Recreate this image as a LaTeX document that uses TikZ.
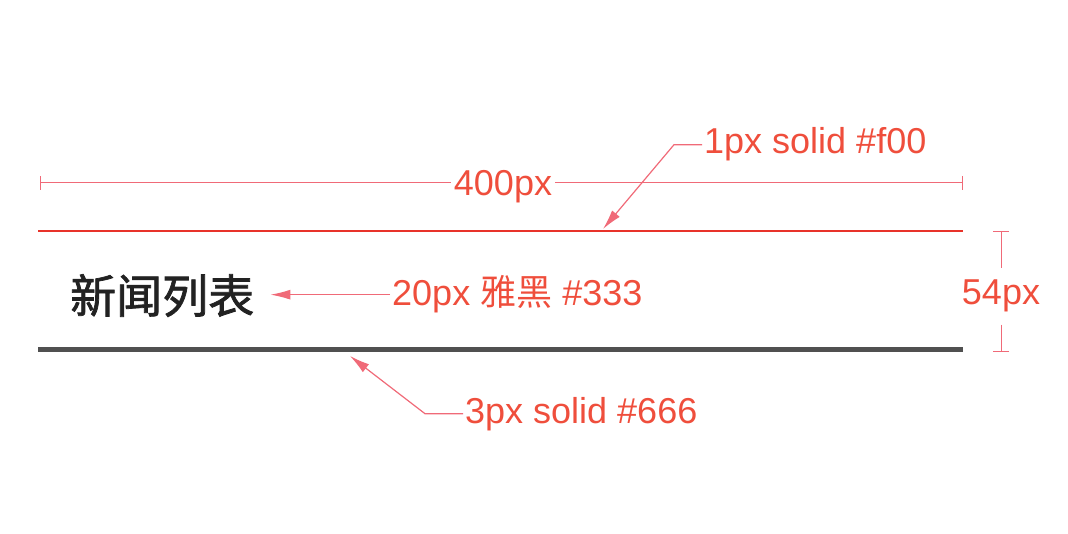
\documentclass[tikz,border=0pt]{standalone}
\usepackage{fontspec}
\setmainfont{Liberation Sans}
\newfontfamily\cjk{Noto Sans CJK SC}
\newfontfamily\cjktitle[FakeBold=1.6]{Noto Sans CJK SC}
\usetikzlibrary{arrows.meta}
\definecolor{lblred}{HTML}{EF4E3C}
\definecolor{leadpink}{HTML}{F06A78}
\definecolor{redline}{HTML}{E8332A}
\definecolor{grayline}{HTML}{505050}
\definecolor{titlegray}{HTML}{222222}

\begin{document}
\begin{tikzpicture}[x=1pt, y=-1pt,
	lbl/.style={text=lblred, font=\fontsize{36}{40}\selectfont, inner sep=2pt},
	lead/.style={draw=leadpink, line width=1.2pt, -{Latex[length=20pt,width=10pt]}},
	dim/.style={draw=leadpink, line width=1pt}]
	\useasboundingbox (0,0) rectangle (1068,534);
	% width
	\coordinate (dimL) at (40,183);
	\coordinate (dimR) at (963,183);
	\node [lbl, anchor=base, inner xsep=3pt] (w) at (503,196) {400px};
	\draw [dim, {Bar[width=14pt]}-] (dimL) -- (dimL -| w.west);
	\draw [dim, -{Bar[width=14pt]}] (dimR -| w.east) -- (dimR);
	% rules
	\coordinate (r1) at (38,231);
	\coordinate (r2) at (963,231);
	\coordinate (g1) at (38,350);
	\coordinate (g2) at (963,350);
	\draw [draw=redline, line width=2.6pt] (r1) -- (r2);
	\draw [draw=grayline, line width=5pt] (g1) -- (g2);
	% height
	\coordinate (vt) at (1001,231);
	\coordinate (vb) at (1001,352);
	\node [lbl, anchor=base, inner ysep=12pt] (h) at (1001,305) {54px};
	\draw [dim, {Bar[width=16pt]}-] (vt) -- (vt |- h.north);
	\draw [dim, -{Bar[width=16pt]}] (vb |- h.south) -- (vb);
	% title
	\node [anchor=base west, inner sep=2pt, text=titlegray, font=\cjktitle\fontsize{46}{50}\selectfont] (t) at (68,313) {新闻列表};
	% labels
	\node [lbl, anchor=base west] (c1) at (702,154) {1px solid \#f00};
	\node [lbl, anchor=base west] (s) at (390,306) {20px {\cjk 雅黑} \#333};
	\node [lbl, anchor=base west] (c3) at (463,423) {3px solid \#666};
	\coordinate (tip1) at (603,229);
	\coordinate (tip3) at (350,356);
	\draw [lead] (c1.west) -- ++(-28,0) -- (tip1);
	\draw [lead, shorten >=14pt] (s.west) -- (s.west -| t.east);
	\draw [lead] (c3.west) -- ++(-38,0) -- (tip3);
\end{tikzpicture}
\end{document}
